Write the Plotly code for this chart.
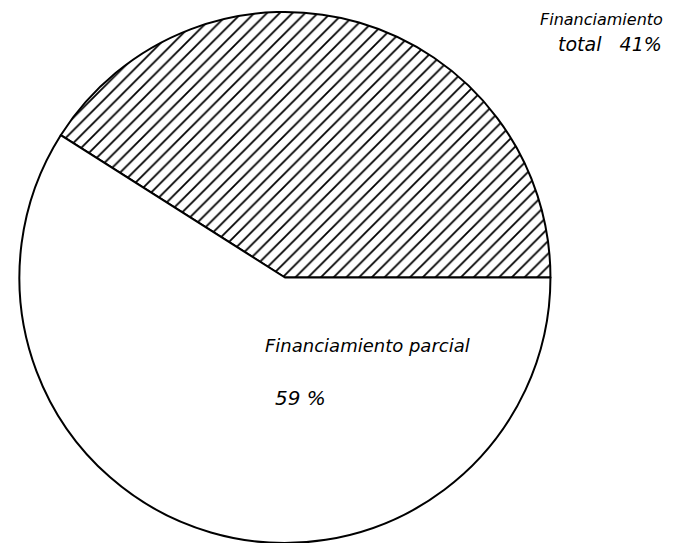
import plotly.graph_objects as go

labels = ["Financiamiento total", "Financiamiento parcial"]
values = [41, 59]
patterns = ["/", ""]

first_share = values[0] / sum(values)

fig = go.Figure(go.Pie(
    labels=labels,
    values=values,
    sort=False,
    direction="clockwise",
    rotation=90 - 360 * first_share,
    textinfo="none",
    hoverinfo="label+percent",
    marker=dict(
        colors=["white", "white"],
        line=dict(color="black", width=2),
        pattern=dict(shape=patterns, fgcolor="black", bgcolor="white",
                     size=9, solidity=0.2, fillmode="replace"),
    ),
    domain=dict(x=[0.0265, 0.814], y=[0.0, 0.978]),
    showlegend=False,
))

W, H = 678.0, 543.0
fig.add_annotation(x=538 / W, y=1 - 19 / H, xref="paper", yref="paper",
                   text="<i>Financiamiento</i>", showarrow=False,
                   xanchor="left", yanchor="middle",
                   font=dict(family="DejaVu Sans, sans-serif", size=16, color="black"))
fig.add_annotation(x=556 / W, y=1 - 44 / H, xref="paper", yref="paper",
                   text="<i>total   41%</i>", showarrow=False,
                   xanchor="left", yanchor="middle",
                   font=dict(family="DejaVu Sans, sans-serif", size=19, color="black"))
fig.add_annotation(x=367 / W, y=1 - 345 / H, xref="paper", yref="paper",
                   text="<i>Financiamiento parcial</i>", showarrow=False,
                   xanchor="center", yanchor="middle",
                   font=dict(family="DejaVu Sans, sans-serif", size=18, color="black"))
fig.add_annotation(x=300 / W, y=1 - 398 / H, xref="paper", yref="paper",
                   text="<i>59 %</i>", showarrow=False,
                   xanchor="center", yanchor="middle",
                   font=dict(family="DejaVu Sans, sans-serif", size=20, color="black"))

fig.update_layout(width=678, height=543, margin=dict(l=0, r=0, t=0, b=0),
                  paper_bgcolor="white", plot_bgcolor="white")
fig.write_html("out.html", config={"displayModeBar": False},
               post_script="document.body.style.margin='0';")
